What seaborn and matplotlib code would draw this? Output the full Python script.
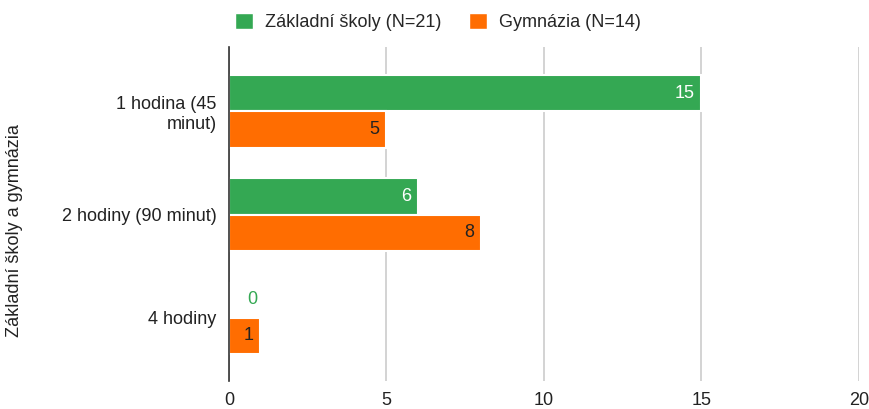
import pandas as pd
import numpy as np
import matplotlib
matplotlib.use("Agg")
import matplotlib.pyplot as plt
from matplotlib.patches import Patch
import seaborn as sns

sns.set_theme(style="white")
plt.rcParams['font.family'] = ['Liberation Sans', 'DejaVu Sans']

categories = ["1 hodina (45\nminut)", "2 hodiny (90 minut)", "4 hodiny"]
groups = ["Základní školy (N=21)", "Gymnázia (N=14)"]
zakladni = [15, 6, 0]
gymnazia = [5, 8, 1]
x_ticks = [0, 5, 10, 15, 20]

GREEN = "#34A853"
ORANGE = "#FF6D01"
FS = 13

df = pd.DataFrame({
    "kategorie": categories * 2,
    "skupina": [groups[0]] * 3 + [groups[1]] * 3,
    "pocet": zakladni + gymnazia,
})

fig = plt.figure(figsize=(8.7, 4.09), dpi=100)
ax = fig.add_axes([229 / 870, 1 - 381 / 409, (859 - 229) / 870, (381 - 47) / 409])

sns.barplot(data=df, y="kategorie", x="pocet", hue="skupina", orient="h",
            palette=[GREEN, ORANGE], width=0.7, ax=ax, legend=False,
            edgecolor="white", linewidth=1.5, saturation=1)

ax.set_xlim(0, 20)
ax.set_ylim(2.615, -0.625)
ax.set_xticks(x_ticks)
ax.set_xticklabels([str(t) for t in x_ticks])
ax.grid(axis="x", color="#cccccc", linewidth=1.2)
ax.set_axisbelow(True)
for s in ["top", "right", "bottom"]:
    ax.spines[s].set_visible(False)
ax.spines["left"].set_color("#333333")
ax.spines["left"].set_linewidth(1.2)
ax.spines["left"].set_zorder(5)
ax.tick_params(axis="both", length=0, labelsize=FS, colors="#222222")
ax.tick_params(axis="y", pad=9)
ax.tick_params(axis="x", pad=8)
ax.set_xlabel("")
ax.set_ylabel("")

# value labels
for cont, vals, txtcol in zip(ax.containers, [zakladni, gymnazia], ["white", "#222222"]):
    for bar, v in zip(cont, vals):
        yc = bar.get_y() + bar.get_height() / 2
        if v == 0:
            ax.annotate(str(v), (v, yc), xytext=(13, 0), textcoords="offset points",
                        ha="left", va="center", color=GREEN, fontsize=FS)
        else:
            ax.annotate(str(v), (v, yc), xytext=(-5, 0), textcoords="offset points",
                        ha="right", va="center", color=txtcol, fontsize=FS)

fig.text(15 / 870, 1 - 231 / 409, "Základní školy a gymnázia", rotation=90,
         ha="center", va="center", fontsize=FS, color="#222222")

handles = [Patch(facecolor=GREEN, label=groups[0]), Patch(facecolor=ORANGE, label=groups[1])]
fig.legend(handles=handles, loc="center", bbox_to_anchor=(438 / 870, 1 - 22 / 409), ncol=2,
           frameon=False, fontsize=FS, handlelength=1.0, handleheight=1.0,
           columnspacing=1.5, handletextpad=0.7)

fig.savefig("out.png", dpi=100)
